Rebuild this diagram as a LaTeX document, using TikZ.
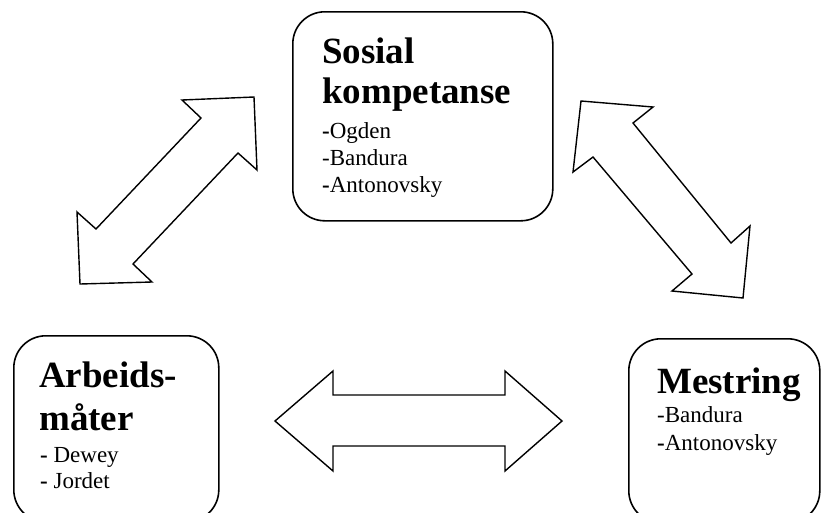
\documentclass[tikz,border=0pt]{standalone}
\usepackage{fontspec}
\setmainfont{Liberation Serif}
\newcommand{\bigtxt}{\fontsize{37}{40}\selectfont\bfseries}
\newcommand{\smalltxt}{\fontsize{23}{27}\selectfont}

\begin{document}
\begin{tikzpicture}[
    x=1pt, y=-1pt,
    box/.style={draw, line width=1.6pt, rounded corners=32pt, anchor=north west, inner sep=0pt},
    headtxt/.style={anchor=base west, inner sep=0pt, font=\bigtxt},
    listtxt/.style={anchor=base west, inner sep=0pt, font=\smalltxt},
    blockarrow/.style={draw, fill=white, line width=1.4pt, line join=miter}
]

\useasboundingbox (0,0) rectangle (822,512);
\clip (0,0) rectangle (822,512);

% Top
\node[box, minimum width=260pt, minimum height=209pt] (sosial) at (292,11) {};
\node[headtxt] (sosial1) at (322,63) {Sosial};
\node[headtxt] (sosial2) at (322,103) {kompetanse};
\node[listtxt] (ogden) at (322,138) {{\bfseries -}Ogden};
\node[listtxt] (bandura1) at (322,165) {-Bandura};
\node[listtxt] (anton1) at (322,192) {{\bfseries -}Antonovsky};

% Bottom left
\node[box, minimum width=205pt, minimum height=186pt] (arbeid) at (13,335) {};
\node[headtxt] (arbeid1) at (39,387) {Arbeids-};
\node[headtxt] (arbeid2) at (39,430) {måter};
\node[listtxt] (dewey) at (40,462) {{\bfseries -} Dewey};
\node[listtxt] (jordet) at (40,488) {{\bfseries -} Jordet};

% Bottom right
\node[box, minimum width=191pt, minimum height=184pt] (mestring) at (628,338) {};
\node[headtxt] (mestring1) at (657,393) {Mestring};
\node[listtxt] (bandura2) at (657,422) {-Bandura};
\node[listtxt] (anton2) at (657,450) {{\bfseries -}Antonovsky};

% Arrows
\draw[blockarrow] (254,97) -- (257,170) -- (238,153) -- (133,264) -- (152,282)
    -- (80,284) -- (77,212) -- (96,229) -- (201,118) -- (182,100) -- cycle;

\draw[blockarrow] (581,101) -- (653,107) -- (633,123) -- (731,243) -- (750,226)
    -- (743,298) -- (672,291) -- (692,274) -- (593,157) -- (573,172) -- cycle;

\draw[blockarrow] (275,421) -- (333,371) -- (333,395) -- (505,395) -- (505,371)
    -- (562,421) -- (505,471) -- (505,446) -- (333,446) -- (333,471) -- cycle;

\end{tikzpicture}
\end{document}
